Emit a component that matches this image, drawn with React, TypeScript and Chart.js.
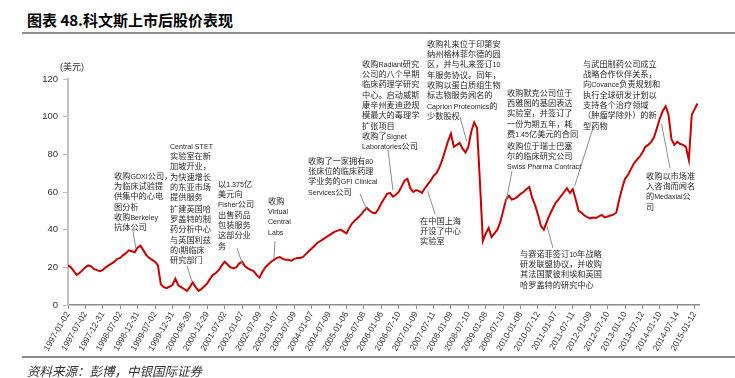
import React, { useEffect, useRef } from 'react';
import { Chart, registerables } from 'chart.js';

Chart.register(...registerables);

// x-axis tick labels (one every 6 months of the series)
const tickLabels = [
  '1997-01-02', '1997-07-02', '1997-12-31', '1998-07-02', '1998-12-31', '1999-07-02',
  '1999-12-31', '2000-06-30', '2000-12-29', '2001-07-02', '2002-01-07', '2002-07-09',
  '2003-01-07', '2003-07-09', '2004-01-07', '2004-07-09', '2005-01-06', '2005-07-08',
  '2006-01-06', '2006-07-10', '2007-01-09', '2007-07-11', '2008-01-09', '2008-07-10',
  '2009-01-08', '2009-07-10', '2010-01-08', '2010-07-12', '2011-01-07', '2011-07-11',
  '2012-01-09', '2012-07-10', '2013-01-10', '2013-07-12', '2014-01-10', '2014-07-14',
  '2015-01-12',
];
const monthsPerTick = 6;

// monthly closing price (USD), starting 1997-01
const priceValues = [
  21, 20, 18, 16, 17, 18.5, 20, 21, 20.5, 19, 18.5, 18,
  18.6, 20, 21, 22, 23, 24.5, 25, 26.5, 27.5, 29, 28.5, 28,
  30.5, 31.5, 29, 26.5, 25, 24, 23, 21, 11, 9.5, 9, 9.8,
  10.6, 14, 10.5, 9.5, 8.5, 7.5, 9.5, 12, 9.5, 7.5, 8.5, 10,
  11.5, 14, 16, 17, 18.6, 21, 23, 21.5, 20, 19.5, 20, 22,
  23, 20.5, 19.5, 18.6, 18, 16, 14.5, 17.5, 20, 21.5, 23, 24,
  25, 25.5, 24.5, 24, 24, 23.5, 24.5, 25, 25, 25.5, 27, 28.5,
  30, 31.5, 33, 34, 35, 36, 37, 38, 39, 39.5, 40, 39,
  38, 41, 43.5, 45, 46.5, 48, 50, 51.5, 50, 49, 48.8, 51,
  54, 56.5, 59, 59.5, 57.5, 58.5, 60, 63, 66, 67, 62, 60,
  61, 60.5, 59.5, 62, 64, 66, 68.5, 70, 73, 77, 82, 87,
  91, 84, 85, 86, 83, 81, 84, 92, 97, 94, 65, 34,
  38, 41, 36, 38, 40, 44, 50, 56, 58, 56, 56.5, 57.5,
  59, 60, 61.5, 62.7, 57, 53, 48, 42, 40, 44, 47.8, 51,
  54, 56, 58, 60, 62, 59.5, 61.5, 56, 50, 49, 47.5, 46.7,
  46, 46.5, 46.2, 47, 47.8, 46.5, 47, 47.5, 48, 49, 56, 62,
  67, 69, 72, 75, 77, 78.6, 81, 84, 85, 86.6, 89, 94,
  99, 103, 105.5, 101, 88, 85, 86.6, 85.5, 85, 84, 77, 101,
  104, 107,
];

const yTicks = [0, 20, 40, 60, 80, 100, 120];

type Note = { left: number; top: number; lines: string[] };
const notes: Note[] = [
  { left: 114, top: 175, lines: ['收购GDXI公司，', '为临床试验提', '供集中的心电', '图分析', '收购Berkeley', '抗体公司'] },
  { left: 170, top: 145, lines: ['Central STET', '实验室在新', '加坡开业，', '为快速增长', '的东亚市场', '提供服务'] },
  { left: 170, top: 208, lines: ['扩建英国哈', '罗盖特的制', '药分析中心', '与英国利兹', '的I期临床', '研究部门'] },
  { left: 218, top: 183, lines: ['以1.375亿', '美元向', 'Fisher公司', '出售药品', '包装服务', '这部分业', '务'] },
  { left: 268, top: 200, lines: ['收购', 'Virtual', 'Central', 'Labs'] },
  { left: 308, top: 160, lines: ['收购了一家拥有80', '张床位的临床药理', '学业务的GFI Clinical', 'Services公司'] },
  { left: 362, top: 63, lines: ['收购Radiant研究', '公司的八个早期', '临床药理学研究', '中心。启动威斯', '康辛州麦迪逊规', '模最大的毒理学', '扩张项目'] },
  { left: 362, top: 135, lines: ['收购了Signet', 'Laboratories公司'] },
  { left: 427, top: 43, lines: ['收购礼来位于印第安', '纳州格林菲尔德的园', '区，并与礼来签订10', '年服务协议。同年，', '收购以蛋白质组生物', '标志物服务闻名的', 'Caprion Proteomics的', '少数股权'] },
  { left: 420, top: 220, lines: ['在中国上海', '开设了中心', '实验室'] },
  { left: 507, top: 92, lines: ['收购默克公司位于', '西雅图的基因表达', '实验室，并签订了', '一份为期五年，耗', '费1.45亿美元的合同'] },
  { left: 507, top: 145, lines: ['收购位于瑞士巴塞', '尔的临床研究公司', 'Swiss Pharma Contract'] },
  { left: 583, top: 63, lines: ['与武田制药公司成立', '战略合作伙伴关系，', '向Covance负责规划和', '执行全球研发计划以', '支持各个治疗领域', '（肿瘤学除外）的新', '型药物'] },
  { left: 646, top: 175, lines: ['收购以市场准', '入咨询而闻名', '的Medaxial公', '司'] },
  { left: 520, top: 253, lines: ['与赛诺菲签订10年战略', '研发联盟协议，并收购', '其法国蒙彼利埃和英国', '哈罗盖特的研究中心'] },
];

// leader lines: start near the note (px), end at a point on the series (month, value)
const leaders = [
  { sx: 133, sy: 231, m: 23.4, v: 30 },
  { sx: 187, sy: 266, m: 42.7, v: 12.5 },
  { sx: 237, sy: 248, m: 60.3, v: 21 },
  { sx: 275, sy: 241, m: 71, v: 24.5 },
  { sx: 360, sy: 194, m: 103, v: 50.5 },
  { sx: 388, sy: 150, m: 112, v: 61 },
  { sx: 460, sy: 117, m: 137.4, v: 87 },
  { sx: 435, sy: 214, m: 124, v: 60.5 },
  { sx: 512, sy: 171, m: 150.9, v: 54 },
  { sx: 593, sy: 128, m: 174.6, v: 63 },
  { sx: 670, sy: 168, m: 204.6, v: 96 },
  { sx: 553, sy: 248, m: 165, v: 42.5 },
];

const leaderPlugin = {
  id: 'leaders',
  afterDatasetsDraw(chart: any) {
    const { ctx, scales } = chart;
    const xs = scales.x;
    const ys = scales.y;
    ctx.save();
    ctx.strokeStyle = '#8c8c8c';
    ctx.lineWidth = 1;
    leaders.forEach((l) => {
      ctx.beginPath();
      ctx.moveTo(l.sx, l.sy);
      ctx.lineTo(xs.getPixelForValue(l.m), ys.getPixelForValue(l.v));
      ctx.stroke();
    });
    ctx.restore();
  },
};

const cjkFont = '"Noto Sans CJK SC", sans-serif';
const latinFont = '"Liberation Sans", Arial, sans-serif';

function renderLine(s: string) {
  return s.split(/([A-Za-z0-9.][A-Za-z0-9. ]*)/).filter((seg) => seg.length > 0).map((seg, j) =>
    /[A-Za-z0-9]/.test(seg) ? (
      <span key={j} style={{ fontFamily: latinFont, fontSize: 7.1 }}>{seg}</span>
    ) : (
      <span key={j}>{seg}</span>
    )
  );
}

export default function App() {
  const canvasRef = useRef<HTMLCanvasElement | null>(null);

  useEffect(() => {
    if (!canvasRef.current) return;
    const points = priceValues.map((v, i) => ({ x: i, y: v }));
    const chart = new Chart(canvasRef.current, {
      type: 'line',
      data: {
        datasets: [
          {
            data: points,
            borderColor: '#c80000',
            borderWidth: 2,
            pointRadius: 0,
            tension: 0,
            fill: false,
          },
        ],
      },
      options: {
        animation: false,
        responsive: false,
        maintainAspectRatio: false,
        layout: { padding: { top: 79, right: 36, bottom: 23, left: 0 } },
        plugins: { legend: { display: false }, tooltip: { enabled: false } },
        scales: {
          x: {
            type: 'linear',
            min: 0,
            max: 217.5,
            afterFit: (s: any) => { s.height = 50; },
            afterBuildTicks: (s: any) => {
              s.ticks = tickLabels.map((_, k) => ({ value: k * monthsPerTick }));
            },
            ticks: {
              autoSkip: false,
              maxRotation: 60,
              minRotation: 60,
              padding: 1,
              color: '#333',
              font: { size: 8.5, family: latinFont },
              callback: (v: any) => tickLabels[Math.round(Number(v) / monthsPerTick)] ?? '',
            },
            grid: { display: true, drawOnChartArea: false, drawTicks: true, tickLength: 4, color: '#8c8c8c' },
            border: { display: true, color: '#8c8c8c', width: 1.5 },
          },
          y: {
            min: 0,
            max: 120,
            afterFit: (s: any) => { s.width = 68; },
            afterBuildTicks: (s: any) => {
              s.ticks = yTicks.map((v) => ({ value: v }));
            },
            ticks: {
              padding: 5,
              color: '#333',
              font: { size: 9.5, family: latinFont },
            },
            grid: { display: true, drawOnChartArea: false, drawTicks: true, tickLength: 5, color: '#bdbdbd' },
            border: { display: true, color: '#c4c4c4', width: 2 },
          },
        },
      },
      plugins: [leaderPlugin],
    });
    return () => chart.destroy();
  }, []);

  return (
    <div style={{ position: 'absolute', left: 0, top: 0, width: 735, height: 378, background: '#fff', overflow: 'hidden' }}>
      <div
        style={{
          position: 'absolute', left: 27, top: 11, fontSize: 15, lineHeight: '17px', fontWeight: 700,
          fontFamily: '"Noto Sans CJK SC", "Liberation Sans", sans-serif', color: '#000', whiteSpace: 'pre',
        }}
      >
        图表 48.科文斯上市后股价表现
      </div>
      <div style={{ position: 'absolute', left: 22, top: 32, width: 713, height: 2, background: '#8c8c8c' }} />
      <canvas ref={canvasRef} width={735} height={378} style={{ position: 'absolute', left: 0, top: 0, width: 735, height: 378 }} />
      <div
        style={{
          position: 'absolute', left: 60, top: 62, fontSize: 9, lineHeight: '11px', color: '#333',
          fontFamily: '"Liberation Sans", "Noto Sans CJK SC", sans-serif', whiteSpace: 'pre',
        }}
      >
        (美元)
      </div>
      {notes.map((n, i) => (
        <div
          key={i}
          style={{
            position: 'absolute', left: n.left, top: n.top - 5.5, fontSize: 8.2,
            color: '#2a2a2a', fontFamily: cjkFont, whiteSpace: 'pre',
          }}
        >
          {n.lines.map((ln, j) => (
            <div key={j} style={{ height: 10.4, lineHeight: '10.4px' }}>{renderLine(ln)}</div>
          ))}
        </div>
      ))}
      <div style={{ position: 'absolute', left: 22, top: 356, width: 713, height: 1.5, background: '#8c8c8c' }} />
      <div
        style={{
          position: 'absolute', left: 27, top: 364, fontSize: 12.5, lineHeight: '14px', fontStyle: 'italic',
          color: '#333', fontFamily: '"Noto Sans CJK SC", sans-serif', whiteSpace: 'pre',
        }}
      >
        资料来源：彭博，中银国际证券
      </div>
    </div>
  );
}
